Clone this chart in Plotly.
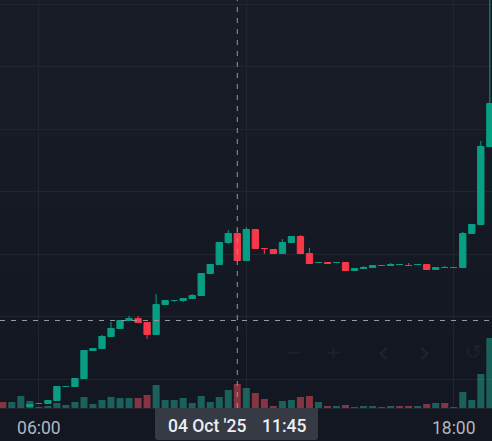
import plotly.graph_objects as go

# === Data ===
bars = list(range(55))
opens = [None, None, None, 100.15, 100.45, 100.45, 100.75, 102.15, 102.15, 102.95, 105.75, 105.95, 107.15, 107.95, 108.75,
         108.95, 108.55, 107.35, 110.35, 110.75, 110.75, 110.95, 111.25, 113.45, 114.35, 116.55, 117.45, 114.75, 117.85, 115.95,
         115.85, 115.45, 116.55, 117.15, 115.45, 114.55, 114.55, 114.55, 114.55, 113.75, 113.95, 114.05, 114.25, 114.25, 114.35,
         114.25, 114.35, 114.35, 113.85, 114.05, 114.05, 114.05, 117.45, 118.35, 126.15]
highs = [None, None, None, 100.4, 100.5, 100.8, 102.2, 102.2, 103.0, 105.8, 106.0, 107.3, 108.6, 108.8, 109.2,
         109.2, 108.6, 111.4, 110.8, 110.8, 111.0, 111.4, 113.5, 114.4, 116.6, 117.8, 117.9, 118.1, 117.9, 116.0,
         115.9, 116.9, 117.2, 117.3, 116.0, 114.6, 114.6, 114.6, 114.6, 114.0, 114.2, 114.3, 114.3, 114.5, 114.4,
         114.5, 114.4, 114.4, 114.1, 114.2, 114.1, 117.6, 118.4, 126.7, 141.5]
lows = [None, None, None, 100.1, 100.4, 100.4, 100.7, 102.1, 102.1, 102.9, 105.7, 105.9, 107.1, 107.9, 108.7,
        108.5, 106.9, 107.3, 110.3, 110.6, 110.6, 110.9, 111.2, 113.4, 114.3, 116.4, 114.7, 114.7, 115.9, 115.4,
        115.4, 115.4, 116.5, 115.4, 114.4, 114.5, 114.4, 114.5, 113.7, 113.7, 113.9, 114.0, 114.2, 114.2, 114.3,
        114.2, 114.3, 113.8, 113.8, 114.0, 114.0, 114.0, 117.4, 118.3, 126.1]
closes = [None, None, None, 100.35, 100.45, 100.75, 102.15, 102.15, 102.95, 105.75, 105.95, 107.15, 107.95, 108.75, 108.95,
          108.55, 107.35, 110.35, 110.75, 110.75, 110.95, 111.25, 113.45, 114.35, 116.55, 117.45, 114.75, 117.85, 115.95, 115.95,
          115.45, 116.55, 117.15, 115.45, 114.45, 114.55, 114.45, 114.55, 113.75, 113.95, 114.05, 114.25, 114.25, 114.35, 114.35,
          114.25, 114.35, 113.85, 114.05, 114.05, 114.05, 117.45, 118.35, 126.15, 130.45]
volumes = [6, 6, 12, 7, 1, 2, 5, 3, 6, 11, 4, 8, 11, 10, 10,
           10, 13, 23, 8, 8, 10, 5, 12, 6, 11, 18, 24, 20, 15, 9,
           2, 7, 8, 11, 12, 6, 2, 2, 3, 1, 2, 2, 1, 2, 2,
           2, 2, 4, 5, 5, 1, 16, 8, 34, 70]
red_volume_bars = [0, 15, 16, 26, 28, 29, 30, 33, 34, 36, 38, 44, 45, 47, 49]
tick_bars = [4, 27, 50]
tick_labels = ["06:00", "", "18:00"]
cursor_bar = 26
cursor_price = 108.75
cursor_date = "04 Oct '25"
cursor_time = "11:45"
nav_buttons = ["−", "+", "‹", "›", "↺"]

WIDTH, HEIGHT = 492, 441
AXIS_H = 33
GREEN = "#089e84"
RED = "#f7374a"
GRID = "#21252f"

fig = go.Figure()

# Volume sits on the base axis so the candles draw on top of it
fig.add_trace(go.Bar(
    x=bars, y=volumes, yaxis="y", width=0.78, showlegend=False,
    marker=dict(color=["rgba(247,82,95,0.5)" if i in red_volume_bars else "rgba(34,171,148,0.5)" for i in bars],
                line_width=0),
))
fig.add_trace(go.Candlestick(
    x=bars, open=opens, high=highs, low=lows, close=closes, yaxis="y2", showlegend=False,
    whiskerwidth=0,
    increasing=dict(line=dict(color=GREEN, width=1), fillcolor=GREEN),
    decreasing=dict(line=dict(color=RED, width=1), fillcolor=RED),
))

shapes = []
# fond en dégradé
bands = ["#181c27", "#171b26", "#161a25", "#151924", "#141823", "#131722"]
band_h = (HEIGHT - AXIS_H) / len(bands)
for i, c in enumerate(bands):
    shapes.append(dict(type="rect", xref="paper", yref="paper", layer="below", line_width=0, fillcolor=c,
                       x0=0, x1=1, y1=1 - i * band_h / HEIGHT, y0=1 - (i + 1) * band_h / HEIGHT))
# Crosshair
cross = dict(color="#9598a1", width=1, dash="5px,6px")
shapes.append(dict(type="line", xref="x", yref="paper", x0=cursor_bar, x1=cursor_bar,
                   y0=AXIS_H / HEIGHT, y1=1, line=cross))
shapes.append(dict(type="line", xref="paper", yref="y2", x0=0, x1=1,
                   y0=cursor_price, y1=cursor_price, line=cross))
# Time label box, bottom corners rounded
bx0, bx1 = 155 / WIDTH, 318 / WIDTH
by0, by1 = 1 / HEIGHT, AXIS_H / HEIGHT
rx, ry = 3 / WIDTH, 3 / HEIGHT
shapes.append(dict(type="path", xref="paper", yref="paper", fillcolor="#363a45", line_width=0,
                   path=f"M {bx0} {by1} L {bx1} {by1} L {bx1} {by0 + ry} Q {bx1} {by0} {bx1 - rx} {by0} "
                        f"L {bx0 + rx} {by0} Q {bx0} {by0} {bx0} {by0 + ry} Z"))

annotations = [
    dict(text=cursor_date, x=207 / WIDTH, y=15.5 / HEIGHT),
    dict(text=cursor_time, x=284 / WIDTH, y=15.5 / HEIGHT),
]
for a in annotations:
    a.update(xref="paper", yref="paper", showarrow=False, xanchor="center", yanchor="middle",
             font=dict(family="Roboto", size=17.5, color="#eceef2", weight=500))
# Boutons de navigation, presque invisibles
for label, px, size in zip(nav_buttons, [293, 333, 383, 424, 473], [20, 20, 32, 32, 20]):
    annotations.append(dict(text=label, x=px / WIDTH, y=(HEIGHT - 352) / HEIGHT, xref="paper", yref="paper",
                            xanchor="center", yanchor="middle", showarrow=False,
                            font=dict(family="DejaVu Sans", size=size, color="#1d222d")))

fig.update_layout(
    width=WIDTH, height=HEIGHT,
    margin=dict(l=0, r=0, t=0, b=0),
    paper_bgcolor="#131722", plot_bgcolor="rgba(0,0,0,0)",
    boxgap=0.3, boxgroupgap=0, bargap=0.22,
    shapes=shapes, annotations=annotations,
    dragmode=False, hovermode=False,
    xaxis=dict(range=[-0.31, 54.24], tickvals=tick_bars, ticktext=tick_labels, tickmode="array",
               showgrid=True, gridcolor=GRID, gridwidth=1, zeroline=False,
               showline=True, linecolor=GRID, ticks="", rangeslider=dict(visible=False),
               ticklabelstandoff=4, tickfont=dict(family="Roboto", size=17.5, color="#b2b5be")),
    yaxis=dict(domain=[AXIS_H / HEIGHT, 1], range=[0, 408], visible=False),
    yaxis2=dict(domain=[AXIS_H / HEIGHT, 1], range=[100, 140.8], overlaying="y", side="right",
                tick0=102.87, dtick=6.25, showgrid=True, gridcolor=GRID, gridwidth=1,
                showticklabels=False, ticks="", zeroline=False, showline=False),
)

fig.write_html("out.html", config=dict(displayModeBar=False),
               post_script="document.body.style.margin='0';document.body.style.overflow='hidden';")
